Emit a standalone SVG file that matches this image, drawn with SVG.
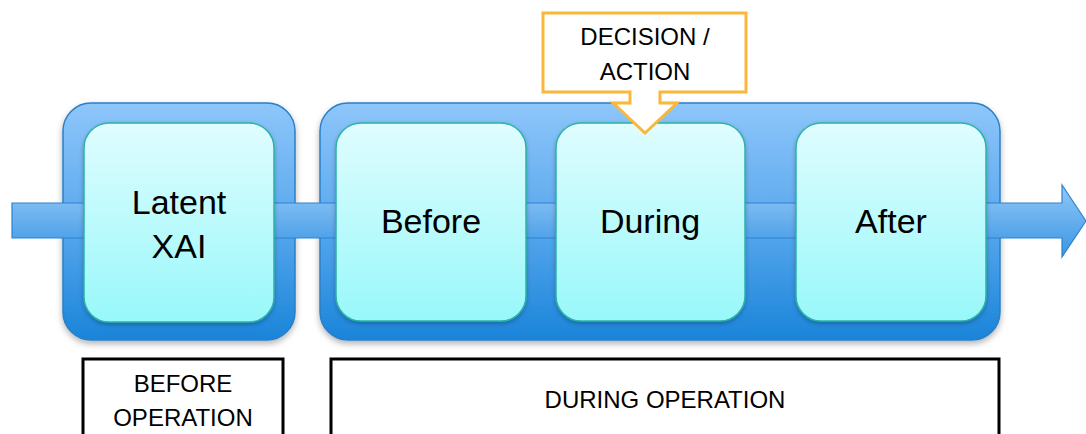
<svg xmlns="http://www.w3.org/2000/svg" width="1086" height="434" viewBox="0 0 1086 434">
<defs>
<linearGradient id="gOuter" x1="0" y1="0" x2="0" y2="1">
<stop offset="0" stop-color="#8EC6FA"/>
<stop offset="0.5" stop-color="#5AA9EE"/>
<stop offset="1" stop-color="#1A84D9"/>
</linearGradient>
<linearGradient id="gInner" x1="0" y1="0" x2="0" y2="1">
<stop offset="0" stop-color="#E0FDFF"/>
<stop offset="1" stop-color="#98F8FA"/>
</linearGradient>
<linearGradient id="gBand" x1="0" y1="0" x2="0" y2="1">
<stop offset="0" stop-color="#92C8F7"/>
<stop offset="1" stop-color="#3A95E4"/>
</linearGradient>
<filter id="shadow" x="-10%" y="-10%" width="120%" height="125%">
<feDropShadow dx="0" dy="3" stdDeviation="3" flood-color="#000" flood-opacity="0.3"/>
</filter>
<filter id="shadowS" x="-10%" y="-10%" width="120%" height="125%">
<feDropShadow dx="0" dy="2" stdDeviation="2" flood-color="#000" flood-opacity="0.25"/>
</filter>
</defs>
<style>
.outer{fill:url(#gOuter);stroke:#2B7FC6;stroke-width:1.5;filter:url(#shadow)}
.inner{fill:url(#gInner);stroke:#2BB3A6;stroke-width:1.5;filter:url(#shadowS)}
.band{fill:url(#gBand);stroke:#2A84D2;stroke-width:1.2}
.big{font-family:"Liberation Sans",Arial,sans-serif;font-size:34px;fill:#000;text-anchor:middle}
.small{font-family:"Liberation Sans",Arial,sans-serif;font-size:24px;fill:#000;text-anchor:middle}
.lbl{fill:#fff;stroke:#000;stroke-width:3}
.callout{fill:#fff;stroke:#FBB73A;stroke-width:3;stroke-linejoin:miter}
</style>
<rect width="1086" height="434" fill="#fff"/>
<g id="stage-before-operation">
<rect class="outer" x="63" y="103" width="232" height="237" rx="28"/>
</g>
<g id="stage-during-operation">
<rect class="outer" x="320" y="103" width="680" height="237" rx="28"/>
</g>
<g id="connectors">
<path class="band" d="M12,203 H1062 V185 L1086,221 L1062,257 V238 H12 Z"/>
</g>
<g id="node-latent-xai">
<rect class="inner" x="84" y="123" width="190" height="199" rx="25"/>
<text class="big" x="179" y="214">Latent</text>
<text class="big" x="179" y="258">XAI</text>
</g>
<g id="node-before">
<rect class="inner" x="336" y="123" width="190" height="198" rx="25"/>
<text class="big" x="431" y="233">Before</text>
</g>
<g id="node-during">
<rect class="inner" x="556" y="123" width="189" height="198" rx="25"/>
<text class="big" x="650" y="233">During</text>
</g>
<g id="node-after">
<rect class="inner" x="796" y="123" width="190" height="198" rx="25"/>
<text class="big" x="891" y="233">After</text>
</g>
<g id="callout-decision">
<path class="callout" d="M543,13 H746 V92 H660 V103 H677 L645,133 L613,103 H630 V92 H543 Z"/>
<text class="small" x="645" y="45">DECISION /</text>
<text class="small" x="645" y="80">ACTION</text>
</g>
<g id="label-before-operation">
<rect class="lbl" x="83" y="359" width="200" height="90"/>
<text class="small" x="183" y="392">BEFORE</text>
<text class="small" x="183" y="426">OPERATION</text>
</g>
<g id="label-during-operation">
<rect class="lbl" x="331" y="359" width="668" height="90"/>
<text class="small" x="665" y="408">DURING OPERATION</text>
</g>
</svg>
